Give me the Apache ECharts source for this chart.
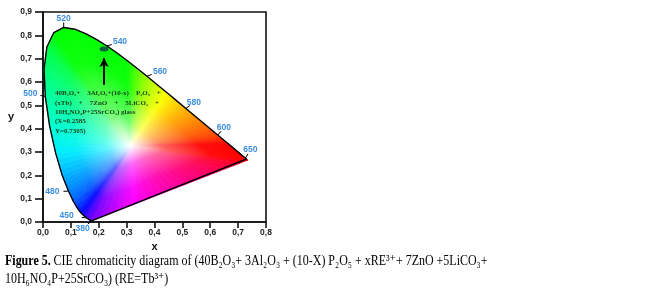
<!DOCTYPE html>
<html>
<head>
<meta charset="utf-8">
<script src="https://cdn.jsdelivr.net/npm/echarts@6/dist/echarts.min.js"></script>
<style>
  html, body { margin: 0; padding: 0; background: #fff; }
  #chart { width: 651px; height: 303px; }
</style>
</head>
<body>
<div id="chart"></div>
<script>
// CIE 1931 spectral locus (nm, x, y)
const wavelengths = [380, 400, 420, 430, 440, 450, 460, 465, 470, 475, 480, 485, 490, 495, 500, 505, 510, 515, 520, 525, 530, 535, 540, 545, 550, 555, 560, 565, 570, 575, 580, 585, 590, 595, 600, 605, 610, 615, 620, 625, 630, 640, 650, 660, 680, 700];
const locusX = [0.1741, 0.1733, 0.1714, 0.1689, 0.1644, 0.1566, 0.1440, 0.1355, 0.1241, 0.1096, 0.0913, 0.0687, 0.0454, 0.0235, 0.0082, 0.0039, 0.0139, 0.0389, 0.0743, 0.1142, 0.1547, 0.1929, 0.2296, 0.2658, 0.3016, 0.3373, 0.3731, 0.4087, 0.4441, 0.4788, 0.5125, 0.5448, 0.5752, 0.6029, 0.6270, 0.6482, 0.6658, 0.6801, 0.6915, 0.7006, 0.7079, 0.7190, 0.7260, 0.7300, 0.7334, 0.7347];
const locusY = [0.0050, 0.0048, 0.0051, 0.0069, 0.0109, 0.0177, 0.0297, 0.0399, 0.0578, 0.0868, 0.1327, 0.2007, 0.2950, 0.4127, 0.5384, 0.6548, 0.7502, 0.8120, 0.8338, 0.8262, 0.8059, 0.7816, 0.7543, 0.7243, 0.6923, 0.6589, 0.6245, 0.5896, 0.5547, 0.5202, 0.4866, 0.4544, 0.4242, 0.3965, 0.3725, 0.3514, 0.3340, 0.3197, 0.3083, 0.2993, 0.2920, 0.2809, 0.2740, 0.2700, 0.2666, 0.2653];

// wavelengths written on the curve
const labelledWl = [380, 450, 480, 500, 520, 540, 560, 580, 600, 650];
const labelOffsets = {
  380: [-9, 8], 450: [-20, -2], 480: [-16, 1], 500: [-15, -3], 520: [0, -9],
  540: [13, -4], 560: [13, -5], 580: [8, -6], 600: [6, -7], 650: [5, -8]
};

// measured colour point (as drawn)
const pointX = 0.219;
const pointY = 0.741;
const arrowFrom = [0.219, 0.588];
const arrowTo = [0.219, 0.703];

const whitePoint = [0.315, 0.325];

const locus = wavelengths.map((w, i) => [locusX[i], locusY[i], w]);

function xyToRgb(x, y) {
  const X = x / y, Y = 1, Z = (1 - x - y) / y;
  let r = 3.2406 * X - 1.5372 * Y - 0.4986 * Z;
  let g = -0.9689 * X + 1.8758 * Y + 0.0415 * Z;
  let b = 0.0557 * X - 0.2040 * Y + 1.0570 * Z;
  r = Math.max(r, 0); g = Math.max(g, 0); b = Math.max(b, 0);
  const m = Math.max(r, g, b) || 1;
  const gam = v => {
    v = v / m;
    v = v <= 0.0031308 ? 12.92 * v : 1.055 * Math.pow(v, 1 / 2.4) - 0.055;
    return Math.min(1, v) * 255;
  };
  return [gam(r), gam(g), gam(b)];
}
function tint(c, k) {
  return 'rgb(' + c.map(v => Math.round(255 + (v - 255) * k)).join(',') + ')';
}
const mix = (a, b, t) => a.map((v, i) => v + (b[i] - v) * t);

function wedge(c, p1, p2, col) {
  const mid = [(p1[0] + p2[0]) / 2, (p1[1] + p2[1]) / 2];
  const grad = new echarts.graphic.LinearGradient(c[0], c[1], mid[0], mid[1], [
    { offset: 0, color: '#ffffff' },
    { offset: 0.3, color: tint(col, 0.6) },
    { offset: 0.7, color: tint(col, 0.95) },
    { offset: 1, color: tint(col, 1) }
  ], true);
  return {
    type: 'polygon',
    shape: { points: [c, p1, p2] },
    style: { fill: grad, stroke: grad, lineWidth: 0.8 },
    silent: true
  };
}

// one segment of the outline, cut in small wedges so the colours blend
function renderFill(params, api) {
  const i = params.dataIndex;
  const a = locus[i];
  const b = locus[(i + 1) % locus.length];
  const isPurple = i === locus.length - 1;
  const n = isPurple ? 20 : 4;
  const ca = xyToRgb(a[0], a[1]);
  const cb = xyToRgb(b[0], b[1]);
  const c = api.coord(whitePoint);
  const children = [];
  for (let k = 0; k < n; k++) {
    const t1 = k / n, t2 = (k + 1) / n, tm = (t1 + t2) / 2;
    const xy1 = [a[0] + (b[0] - a[0]) * t1, a[1] + (b[1] - a[1]) * t1];
    const xy2 = [a[0] + (b[0] - a[0]) * t2, a[1] + (b[1] - a[1]) * t2];
    const col = isPurple
      ? xyToRgb(a[0] + (b[0] - a[0]) * tm, a[1] + (b[1] - a[1]) * tm)
      : mix(ca, cb, tm);
    children.push(wedge(c, api.coord(xy1), api.coord(xy2), col));
  }
  return { type: 'group', children: children };
}

function renderLabels(params, api) {
  const wl = api.value(2);
  const p = api.coord([api.value(0), api.value(1)]);
  const off = labelOffsets[wl];
  const len = Math.sqrt(off[0] * off[0] + off[1] * off[1]);
  const tl = Math.min(5, len - 4);
  const tip = [p[0] + off[0] / len * tl, p[1] + off[1] / len * tl];
  return {
    type: 'group',
    children: [
      { type: 'line', shape: { x1: p[0], y1: p[1], x2: tip[0], y2: tip[1] },
        style: { stroke: '#000', lineWidth: 1 } },
      { type: 'text', x: p[0] + off[0], y: p[1] + off[1],
        style: { text: String(wl), fill: '#3b8ee0', font: 'bold 8.5px Arial, "Liberation Sans"',
                 align: 'center', verticalAlign: 'middle' } }
    ]
  };
}

const fmt = v => v.toFixed(1).replace('.', ',');
const tickFont = { color: '#222', fontSize: 8.5, fontWeight: 'bold', fontFamily: 'Arial, "Liberation Sans"' };

const chart = echarts.init(document.getElementById('chart'));
chart.setOption({
  animation: false,
  backgroundColor: '#fff',
  grid: { left: 43, top: 12, width: 223, height: 210, show: true, borderColor: '#111', borderWidth: 1.6 },
  xAxis: {
    type: 'value', min: 0, max: 0.8, interval: 0.1,
    name: 'x', nameLocation: 'middle', nameGap: 18,
    nameTextStyle: { color: '#111', fontSize: 11, fontWeight: 'bold', fontFamily: 'Arial' },
    axisLine: { onZero: false, lineStyle: { color: '#111', width: 1.6 } },
    axisTick: { inside: false, length: 6, lineStyle: { color: '#111', width: 1.6 } },
    axisLabel: Object.assign({ margin: 6, formatter: v => fmt(v) }, tickFont),
    splitLine: { show: false }
  },
  yAxis: {
    type: 'value', min: 0, max: 0.9, interval: 0.1,
    name: 'y', nameLocation: 'middle', nameGap: 29, nameRotate: 0,
    nameTextStyle: { color: '#111', fontSize: 11, fontWeight: 'bold', fontFamily: 'Arial' },
    axisLine: { onZero: false, lineStyle: { color: '#111', width: 1.6 } },
    axisTick: { inside: false, length: 8, lineStyle: { color: '#111', width: 1.6 } },
    axisLabel: Object.assign({ margin: 11, formatter: v => fmt(v) }, tickFont),
    splitLine: { show: false }
  },
  series: [
    {
      type: 'custom', z: 1, silent: true,
      renderItem: renderFill,
      data: locus,
      clip: false
    },
    {
      type: 'line', z: 3, silent: true,
      data: locus.concat([locus[0]]).map(d => [d[0], d[1]]),
      showSymbol: false, symbol: 'none',
      lineStyle: { color: '#000', width: 1.4 }
    },
    {
      type: 'custom', z: 4, silent: true,
      renderItem: renderLabels,
      data: locus.filter(d => labelledWl.indexOf(d[2]) >= 0),
      clip: false
    },
    {
      type: 'scatter', z: 5, silent: true,
      symbol: 'circle', symbolSize: [9, 5],
      itemStyle: { color: '#0d3552' },
      data: [[pointX, pointY]],
      markLine: {
        silent: true, symbol: ['none', 'arrow'], symbolSize: [7, 9],
        lineStyle: { color: '#000', width: 2, type: 'solid' },
        label: { show: false },
        data: [[{ coord: arrowFrom }, { coord: arrowTo }]]
      }
    }
  ],
  graphic: [
    {
      type: 'text', left: 55, top: 89, z: 10,
      style: {
        text: '40B₂O₃+    3Al₂O₃+(10-x)    P₂O₅    +\n(xTb)    +    7ZnO    +    5LiCO₃    +\n10H₆NO₄P+25SrCO₃) glass\n(X=0.2585\nY=0.7305)',
        font: 'bold 7px "Liberation Serif", "DejaVu Serif", serif',
        fill: '#173a17', lineHeight: 9.3
      }
    },
    {
      type: 'text', x: 5, y: 252, scaleX: 0.855,
      style: {
        rich: {
          b: { font: 'bold 14px "Liberation Serif", serif', fill: '#000' },
          n: { font: '14px "Liberation Serif", "DejaVu Serif", serif', fill: '#000' }
        },
        text: '{b|Figure 5.} {n|CIE chromaticity diagram of (40B₂O₃+ 3Al₂O₃ + (10-X) P₂O₅ + xRE³⁺+ 7ZnO +5LiCO₃+}\n{n|10H₆NO₄P+25SrCO₃) (RE=Tb³⁺)}',
        lineHeight: 18
      }
    }
  ]
});
</script>
</body>
</html>
